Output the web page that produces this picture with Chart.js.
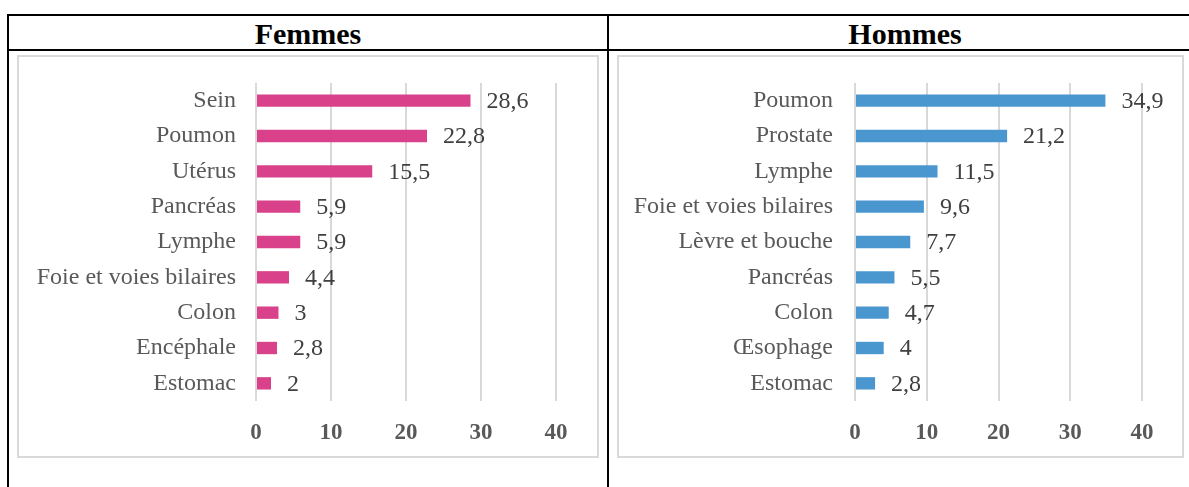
<!DOCTYPE html>
<html>
<head>
<meta charset="utf-8">
<script src="https://cdn.jsdelivr.net/npm/chart.js@4.4.1/dist/chart.umd.min.js"></script>
<style>
  html, body { margin: 0; padding: 0; background: #fff; }
  body { width: 1189px; height: 487px; position: relative; overflow: hidden; font-family: "Liberation Serif", serif; }
  .line { position: absolute; background: #000; }
  .head { position: absolute; top: 16px; height: 36px; line-height: 36px; text-align: center; font-weight: bold; font-size: 30px; color: #000; }
  .box { position: absolute; border: 2px solid #d9d9d9; box-sizing: border-box; }
  .box canvas { position: absolute; left: 0; top: 0; }
</style>
</head>
<body>
<div class="line" style="left:7px; top:14px; width:1182px; height:2px;"></div>
<div class="line" style="left:7px; top:49px; width:1182px; height:2px;"></div>
<div class="line" style="left:7px; top:14px; width:2px; height:473px;"></div>
<div class="line" style="left:607px; top:14px; width:2px; height:473px;"></div>
<div class="head" style="left:9px; width:598px;">Femmes</div>
<div class="head" style="left:609px; width:592px;">Hommes</div>
<div class="box" style="left:17px; top:55px; width:582px; height:403px;"><canvas id="cf"></canvas></div>
<div class="box" style="left:617px; top:55px; width:567px; height:403px;"><canvas id="ch"></canvas></div>
<script>
const femmesCategories = ["Sein", "Poumon", "Utérus", "Pancréas", "Lymphe", "Foie et voies bilaires", "Colon", "Encéphale", "Estomac"];
const femmesValues = [28.6, 22.8, 15.5, 5.9, 5.9, 4.4, 3, 2.8, 2];
const hommesCategories = ["Poumon", "Prostate", "Lymphe", "Foie et voies bilaires", "Lèvre et bouche", "Pancréas", "Colon", "Œsophage", "Estomac"];
const hommesValues = [34.9, 21.2, 11.5, 9.6, 7.7, 5.5, 4.7, 4, 2.8];
const xTicks = [0, 10, 20, 30, 40];

const FONT = "'Liberation Serif', 'Times New Roman', serif";

const valueLabels = {
  id: 'valueLabels',
  afterDatasetsDraw(chart) {
    const ctx = chart.ctx;
    const meta = chart.getDatasetMeta(0);
    const data = chart.data.datasets[0].data;
    ctx.save();
    ctx.font = "24px " + FONT;
    ctx.fillStyle = "#404040";
    ctx.textAlign = "left";
    ctx.textBaseline = "middle";
    meta.data.forEach((bar, i) => {
      const txt = String(data[i]).replace('.', ',');
      ctx.fillText(txt, bar.x + 16, bar.y + 1);
    });
    ctx.restore();
  }
};

function makeChart(id, w, h, cats, vals, color, yWidth, rightPad, labelPad) {
  const cv = document.getElementById(id);
  cv.width = w; cv.height = h;
  cv.style.width = w + 'px'; cv.style.height = h + 'px';
  return new Chart(cv, {
    type: 'bar',
    data: {
      labels: cats,
      datasets: [{ data: vals, backgroundColor: color, borderWidth: 0, barPercentage: 0.7, categoryPercentage: 0.5 }]
    },
    options: {
      indexAxis: 'y',
      responsive: false,
      animation: false,
      devicePixelRatio: 1,
      layout: { padding: { top: 26, right: rightPad, left: 0, bottom: 0 } },
      plugins: { legend: { display: false }, tooltip: { enabled: false }, title: { display: false } },
      scales: {
        x: {
          min: 0, max: 40,
          afterBuildTicks(scale) { scale.ticks = xTicks.map(v => ({ value: v })); },
          afterFit(scale) { scale.height = h - 26 - 318; },
          grid: { color: '#d9d9d9', lineWidth: 2, drawTicks: false },
          border: { display: false },
          ticks: { padding: 18, color: '#595959', font: { family: FONT, size: 23, weight: 'bold' } }
        },
        y: {
          afterFit(scale) { scale.width = yWidth; scale.paddingTop = 0; scale.paddingBottom = 0; },
          grid: { display: false },
          border: { display: false },
          ticks: { padding: labelPad, color: '#595959', font: { family: FONT, size: 24 } }
        }
      }
    },
    plugins: [valueLabels]
  });
}

makeChart('cf', 578, 399, femmesCategories, femmesValues, '#d9428b', 237, 41, 12);
makeChart('ch', 563, 399, hommesCategories, hommesValues, '#4a96cf', 236, 40, 14);
</script>
</body>
</html>
